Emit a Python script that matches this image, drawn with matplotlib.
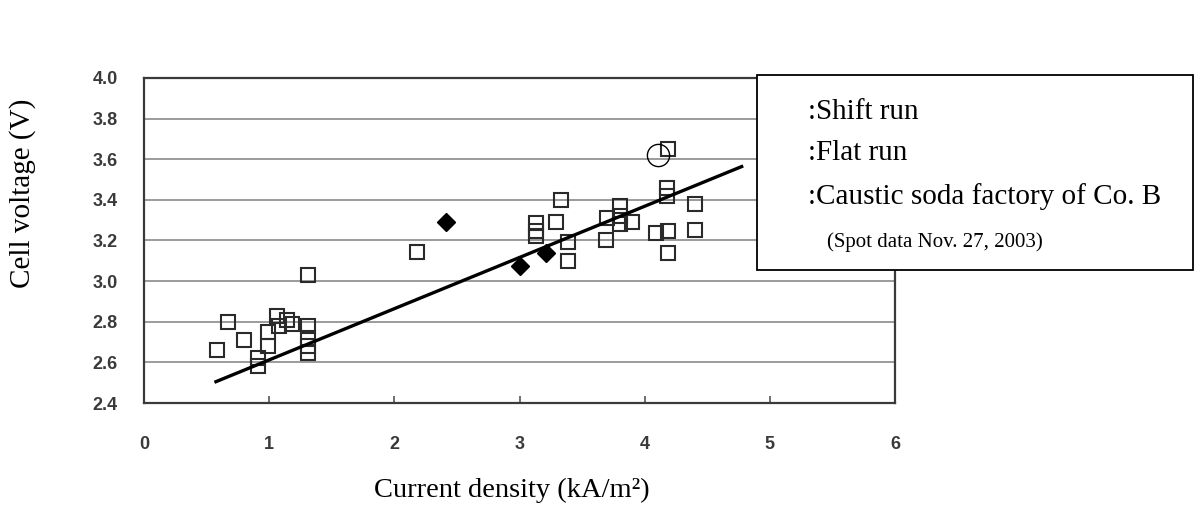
import matplotlib
matplotlib.use("Agg")
import matplotlib.pyplot as plt
from matplotlib.patches import Rectangle

# ---- data ----
square_x = [0.58, 0.67, 0.80, 0.91, 0.91, 0.99, 0.99, 1.06, 1.08, 1.14, 1.18,
            1.31, 1.31, 1.31, 1.31, 1.31, 2.18,
            3.13, 3.13, 3.13, 3.29, 3.33, 3.39, 3.39, 3.69, 3.70, 3.80, 3.80,
            3.80, 3.90, 4.09, 4.19, 4.18, 4.18, 4.19, 4.19, 4.40, 4.40]
square_y = [2.66, 2.80, 2.71, 2.58, 2.62, 2.75, 2.68, 2.83, 2.78, 2.81, 2.79,
            2.78, 2.72, 2.68, 2.645, 3.03, 3.145,
            3.285, 3.245, 3.22, 3.29, 3.40, 3.195, 3.10, 3.20, 3.31, 3.37, 3.32,
            3.28, 3.29, 3.235, 3.65, 3.46, 3.42, 3.245, 3.14, 3.38, 3.25]
diamond_x = [2.41, 3.00, 3.21]
diamond_y = [3.29, 3.075, 3.14]
circle_x = [4.11]
circle_y = [3.62]
trend_x = [0.575, 4.775]
trend_y = [2.505, 3.564]

x_ticks = [0, 1, 2, 3, 4, 5, 6]
y_ticks = [2.4, 2.6, 2.8, 3.0, 3.2, 3.4, 3.6, 3.8, 4.0]
y_ticklabels = ["2.4", "2.6", "2.8", "3.0", "3.2", "3.4", "3.6", "3.8", "4.0"]
legend_lines = [":Shift run", ":Flat run", ":Caustic soda factory of Co. B"]
legend_note = "(Spot data Nov. 27, 2003)"

fig = plt.figure(figsize=(11.96, 5.08), dpi=100)
ax = fig.add_axes([144/1196, 1-403/508, (895-144)/1196, (403-78)/508])

ax.set_xlim(0, 6)
ax.set_ylim(2.4, 4.0)
for y in y_ticks[1:-1]:
    ax.axhline(y, color="#8a8a8a", lw=1.2, zorder=1)

ax.plot(square_x, square_y, linestyle="none", marker="s", markersize=10.5,
        markerfacecolor="none", markeredgecolor="#2a2a2a", markeredgewidth=1.5, zorder=3)
ax.plot(diamond_x, diamond_y, linestyle="none", marker="D", markersize=9,
        color="black", zorder=3)
ax.plot(trend_x, trend_y, color="black", lw=2.4, zorder=4)
ax.plot(circle_x, circle_y, linestyle="none", marker="o", markersize=16,
        markerfacecolor="none", markeredgecolor="black", markeredgewidth=1.0, zorder=5)

for s in ax.spines.values():
    s.set_color("#3a3a3a")
    s.set_linewidth(1.6)

ax.set_xticks(x_ticks)
ax.set_xticklabels([str(t) for t in x_ticks], fontfamily="Liberation Sans",
                   fontweight="bold", fontsize=13, color="#3a3a3a")
ax.set_yticks(y_ticks)
ax.set_yticklabels(y_ticklabels, fontfamily="Liberation Sans",
                   fontweight="bold", fontsize=13, color="#3a3a3a")
ax.tick_params(axis="x", direction="in", length=5, width=1.2, color="#555555", pad=24)
ax.tick_params(axis="y", length=0, pad=19)

fig.text(512/1196, 1-490/508, "Current density (kA/m\u00b2)", ha="center", va="center",
         fontfamily="Liberation Serif", fontsize=20.5)
fig.text(23/1196, 1-193/508, "Cell voltage (V)", ha="center", va="center",
         rotation=90, fontfamily="Liberation Serif", fontsize=21)

# legend box
box = Rectangle((757/1196, 1-270/508), (1193-757)/1196, (270-75)/508,
                transform=fig.transFigure, facecolor="white", edgecolor="black",
                lw=1.3, zorder=10)
fig.patches.append(box)
for txt, ypx in zip(legend_lines, [112, 153, 197]):
    fig.text(808/1196, 1-ypx/508, txt, ha="left", va="center",
             fontfamily="Liberation Serif", fontsize=21, zorder=11)
fig.text(827/1196, 1-242/508, legend_note, ha="left", va="center",
         fontfamily="Liberation Serif", fontsize=15, zorder=11)

fig.savefig("out.png", dpi=100)
